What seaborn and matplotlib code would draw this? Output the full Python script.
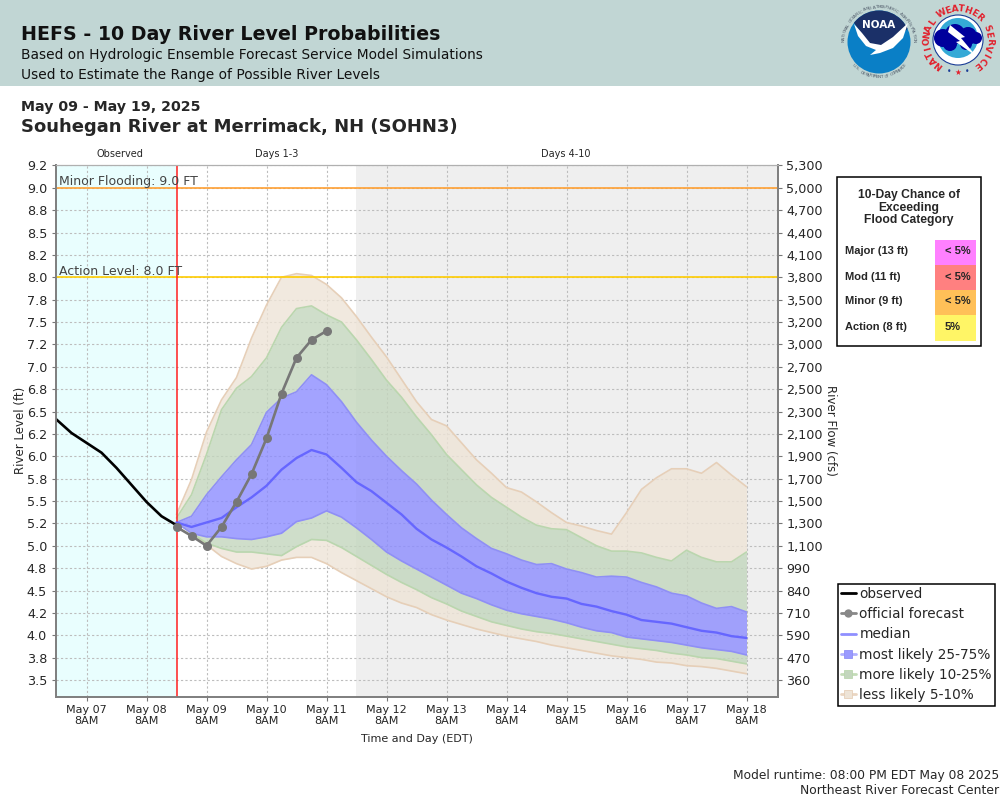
import matplotlib
matplotlib.use("Agg")
import matplotlib.pyplot as plt
import numpy as np
import pandas as pd
import seaborn as sns
from matplotlib.lines import Line2D
from matplotlib.patches import Circle, Polygon, Rectangle

# hours since May 07 8AM
obs_hours = [-12.4, -6, 0, 6, 12, 18, 24, 30, 36]
obs_level = [6.42, 6.26, 6.15, 6.04, 5.87, 5.68, 5.49, 5.33, 5.23]

fcst_hours = list(range(36, 270, 6))
official = [5.21, 5.11, 5.00, 5.21, 5.49, 5.80, 6.20, 6.70, 7.10, 7.30, 7.40]

p95 = [5.35, 5.74, 6.27, 6.63, 6.88, 7.32, 7.69, 8.00, 8.04, 8.02, 7.92, 7.77, 7.56,
       7.33, 7.11, 6.86, 6.61, 6.41, 6.34, 6.15, 5.96, 5.81, 5.65, 5.60, 5.49, 5.37,
       5.26, 5.22, 5.17, 5.13, 5.37, 5.63, 5.76, 5.86, 5.86, 5.81, 5.93, 5.79, 5.66]
p90 = [5.31, 5.57, 6.02, 6.52, 6.76, 6.89, 7.10, 7.44, 7.65, 7.68, 7.58, 7.50, 7.30,
       7.08, 6.85, 6.66, 6.44, 6.24, 6.02, 5.85, 5.68, 5.54, 5.43, 5.32, 5.23, 5.19,
       5.18, 5.09, 5.00, 4.94, 4.94, 4.92, 4.87, 4.83, 4.95, 4.87, 4.82, 4.82, 4.93]
p75 = [5.26, 5.33, 5.57, 5.77, 5.96, 6.13, 6.49, 6.65, 6.72, 6.91, 6.80, 6.61, 6.38,
       6.18, 6.00, 5.84, 5.69, 5.51, 5.35, 5.20, 5.08, 4.97, 4.91, 4.84, 4.79, 4.80,
       4.74, 4.70, 4.65, 4.66, 4.65, 4.59, 4.54, 4.47, 4.44, 4.36, 4.30, 4.32, 4.26]
median = [5.26, 5.21, 5.26, 5.31, 5.43, 5.54, 5.67, 5.85, 5.98, 6.07, 6.02, 5.87, 5.71,
          5.61, 5.48, 5.35, 5.19, 5.07, 4.98, 4.88, 4.77, 4.69, 4.60, 4.53, 4.47, 4.43,
          4.41, 4.35, 4.32, 4.27, 4.23, 4.17, 4.15, 4.13, 4.09, 4.05, 4.03, 3.99, 3.97]
p25 = [5.26, 5.14, 5.10, 5.10, 5.08, 5.07, 5.10, 5.14, 5.27, 5.31, 5.39, 5.32, 5.20,
       5.07, 4.93, 4.83, 4.74, 4.65, 4.56, 4.47, 4.41, 4.34, 4.28, 4.24, 4.21, 4.18,
       4.14, 4.09, 4.05, 4.03, 3.98, 3.96, 3.94, 3.92, 3.89, 3.86, 3.84, 3.82, 3.78]
p10 = [5.26, 5.14, 5.03, 4.97, 4.93, 4.93, 4.91, 4.89, 4.99, 5.07, 5.06, 4.98, 4.88,
       4.78, 4.68, 4.59, 4.51, 4.42, 4.35, 4.27, 4.21, 4.15, 4.11, 4.07, 4.04, 4.02,
       3.99, 3.96, 3.93, 3.90, 3.87, 3.85, 3.83, 3.80, 3.78, 3.75, 3.74, 3.71, 3.68]
p5 = [5.26, 5.14, 5.01, 4.88, 4.80, 4.74, 4.77, 4.84, 4.87, 4.87, 4.80, 4.70, 4.61,
      4.52, 4.43, 4.36, 4.31, 4.23, 4.17, 4.12, 4.07, 4.03, 3.99, 3.96, 3.93, 3.89,
      3.86, 3.83, 3.80, 3.77, 3.75, 3.73, 3.70, 3.69, 3.66, 3.65, 3.63, 3.60, 3.57]

level_ticks = [9.25, 9.0, 8.75, 8.5, 8.25, 8.0, 7.75, 7.5, 7.25, 7.0, 6.75, 6.5,
               6.25, 6.0, 5.75, 5.5, 5.25, 5.0, 4.75, 4.5, 4.25, 4.0, 3.75, 3.5]
flow_labels = ["5,300", "5,000", "4,700", "4,400", "4,100", "3,800", "3,500", "3,200",
               "3,000", "2,700", "2,500", "2,300", "2,100", "1,900", "1,700", "1,500",
               "1,300", "1,100", "990", "840", "710", "590", "470", "360"]
day_labels = ["May 07", "May 08", "May 09", "May 10", "May 11", "May 12",
              "May 13", "May 14", "May 15", "May 16", "May 17", "May 18"]
day_hours = [24 * i for i in range(12)]

flood_names = ["Major (13 ft)", "Mod (11 ft)", "Minor (9 ft)", "Action (8 ft)"]
flood_chance = ["< 5%", "< 5%", "< 5%", "5%"]
flood_colors = ["#ff80ff", "#ff8080", "#ffc058", "#fff566"]

sns.set_style("ticks")
plt.rcParams["font.family"] = ["DejaVu Sans"]

TAN, TAN_EDGE = "#eee4d7", "#e6cfb8"
GREEN, GREEN_EDGE = "#c3d6bd", "#bad6ae"
BLUE, BLUE_EDGE = "#8c8cff", "#8f8ff5"
MEDIAN = "#6666ff"
GRAY = "#777777"

fig = plt.figure(figsize=(10, 8), dpi=100)

# pixel canvas for the header, logos, table and footer
bg = fig.add_axes([0, 0, 1, 1])
bg.set_xlim(0, 1000)
bg.set_ylim(800, 0)
bg.axis("off")


def ring_text(text, cx, cy, r, start, end, size, color, bottom=False, weight="normal"):
    for a, ch in zip(np.linspace(start, end, len(text)), text):
        rad = np.radians(a)
        rot = a + 90 if bottom else a - 90
        bg.text(cx + r * np.cos(rad), cy - r * np.sin(rad), ch, rotation=rot, ha="center",
                va="center", fontsize=size, color=color, fontweight=weight)


bg.add_patch(Rectangle((0, 0), 1000, 85.5, color="#c1d6d4", lw=0))
bg.text(21, 33, "HEFS - 10 Day River Level Probabilities", fontsize=13.7, fontweight="bold",
        color="#111111", va="center_baseline")
bg.text(21, 54, "Based on Hydrologic Ensemble Forecast Service Model Simulations",
        fontsize=9.95, color="#111111", va="center_baseline")
bg.text(21, 73, "Used to Estimate the Range of Possible River Levels", fontsize=9.95,
        color="#111111", va="center_baseline")
bg.text(21, 105, "May 09 - May 19, 2025", fontsize=10.2, fontweight="bold", va="center_baseline")
bg.text(21, 125, "Souhegan River at Merrimack, NH (SOHN3)", fontsize=13, fontweight="bold",
        va="center_baseline")

# NOAA logo
disc = Circle((879, 42), 31.5, color="#0a7fc6", lw=0)
bg.add_patch(disc)
top = Polygon([(845, 5), (913, 5), (913, 24), (893, 42), (878, 50), (866, 40), (852, 20)],
              color="#1b3068", lw=0)
bg.add_patch(top)
top.set_clip_path(disc)
bg.add_patch(Polygon([(854, 24), (862, 33), (870, 43), (881, 45), (893, 37), (908, 23),
                      (903, 38), (893, 48), (880, 53), (870, 55), (876, 50), (866, 46), (858, 36)],
                     color="white", lw=0))
bg.text(879, 25, "NOAA", color="white", fontsize=7.5, fontweight="bold", ha="center", va="center")
ring_text("NATIONAL OCEANIC AND ATMOSPHERIC ADMINISTRATION", 879, 42, 35, 178, 2, 3.2, "#55606e")
ring_text("U.S. DEPARTMENT OF COMMERCE", 879, 42, 35, 222, 318, 3.2, "#55606e", bottom=True)

# NWS logo
bg.add_patch(Circle((958, 40), 25, facecolor="white", edgecolor="#1a3c96", lw=0.8))
dome = Circle((958, 38), 20, color="#34a9d6", lw=0)
bg.add_patch(dome)
for cx, cy, r in [(943, 38, 9), (955, 34, 10), (968, 36, 9), (976, 38, 6), (950, 44, 7), (966, 44, 6)]:
    bg.add_patch(Circle((cx, cy), r, color="#00009c", lw=0))
bg.add_patch(Polygon([(950, 25), (965, 37), (961, 38), (976, 56), (956, 42), (960, 41), (948, 32)],
                     color="white", lw=0))
ring_text("NATIONAL WEATHER SERVICE", 958, 40, 31, 232, -52, 6.5, "#e2202c", weight="bold")
bg.text(958, 72, "★", color="#e2202c", fontsize=5.5, ha="center", va="center")
bg.text(949, 71, "•", color="#1a3c96", fontsize=5.5, ha="center", va="center")
bg.text(967, 71, "•", color="#1a3c96", fontsize=5.5, ha="center", va="center")

# main plot
ax = fig.add_axes([0.0555, 103 / 800, 0.7225, 532.5 / 800])
ax.set_xlim(-12.4, 276.6)
ax.set_ylim(3.31, 9.26)
ax.axvspan(-12.4, 36, color="#e9fefe", lw=0, zorder=0)
ax.axvspan(107.6, 276.6, color="#efefef", lw=0, zorder=0)
ax.set_axisbelow(True)
ax.grid(True, color="#bdbdbd", linestyle=(0, (2, 2)), linewidth=0.8)

bands = pd.DataFrame({"hours": fcst_hours, "p95": p95, "p90": p90, "p75": p75, "median": median,
                      "p25": p25, "p10": p10, "p5": p5})
for low, high, color in [("p90", "p95", TAN), ("p5", "p10", TAN), ("p75", "p90", GREEN),
                         ("p10", "p25", GREEN), ("p25", "p75", BLUE)]:
    ax.fill_between(bands["hours"], bands[low], bands[high], color=color, alpha=0.8, lw=0, zorder=1)
for col, color in [("p95", TAN_EDGE), ("p5", TAN_EDGE), ("p90", GREEN_EDGE), ("p10", GREEN_EDGE),
                   ("p75", BLUE_EDGE), ("p25", BLUE_EDGE)]:
    sns.lineplot(data=bands, x="hours", y=col, ax=ax, color=color, linewidth=1.2, zorder=2)

ax.axhline(9, color="#ffa033", linewidth=1.2, zorder=3)
ax.axhline(8, color="#ffcc00", linewidth=1.2, zorder=3)
ax.axvline(36, color="#ff2020", linewidth=1.1, zorder=3)
ax.text(-11, 8.995, "Minor Flooding: 9.0 FT", fontsize=9, color="#444444", va="bottom")
ax.text(-11, 7.995, "Action Level: 8.0 FT", fontsize=9, color="#444444", va="bottom")

sns.lineplot(x=fcst_hours, y=median, ax=ax, color=MEDIAN, linewidth=1.7, zorder=4)
sns.lineplot(x=obs_hours, y=obs_level, ax=ax, color="black", linewidth=1.9, zorder=5)
sns.lineplot(x=fcst_hours[:len(official)], y=official, ax=ax, color=GRAY, linewidth=1.9, marker="o",
             markersize=6.5, markeredgewidth=0, zorder=6)

ax.set_xticks(day_hours)
ax.set_xticklabels([d + "\n8AM" for d in day_labels], fontsize=8, linespacing=1.05)
ax.set_yticks(level_ticks)
ax.set_yticklabels([f"{v:.1f}" for v in level_ticks], fontsize=9.2)
ax.tick_params(axis="both", length=3, width=0.8, color="#777777", pad=3)
ax.set_xlabel("Time and Day (EDT)", fontsize=8, labelpad=6)
ax.set_ylabel("River Level (ft)", fontsize=8.5, labelpad=0)

right = ax.twinx()
right.set_ylim(ax.get_ylim())
right.set_yticks(level_ticks)
right.set_yticklabels(flow_labels, fontsize=9.2)
right.tick_params(axis="y", length=3, width=0.8, color="#777777", pad=3)
right.set_ylabel("River Flow (cfs)", fontsize=8.5, rotation=270, labelpad=10)
right.grid(False)
for a in (ax, right):
    for side in ["left", "right", "bottom"]:
        a.spines[side].set_visible(True)
        a.spines[side].set_color("#808080")
        a.spines[side].set_linewidth(1.3)
    a.spines["top"].set_visible(True)
    a.spines["top"].set_color("#b0b0b0")

bg.text(120, 154, "Observed", fontsize=7, ha="center", va="center")
bg.text(277, 154, "Days 1-3", fontsize=7, ha="center", va="center")
bg.text(566, 154, "Days 4-10", fontsize=7, ha="center", va="center")

handles = [
    Line2D([], [], color="black", lw=2),
    Line2D([], [], color="#888888", lw=2, marker="o", markersize=6, markeredgewidth=0),
    Line2D([], [], color="#8f8fff", lw=2),
    Line2D([], [], color="#b0b0ff", lw=2, marker="s", markersize=6, markerfacecolor="#9999ff",
           markeredgecolor="#8f8ff5", markeredgewidth=0.6),
    Line2D([], [], color="#c4dcb8", lw=2, marker="s", markersize=6, markerfacecolor="#c3d6bd",
           markeredgecolor="#bad6ae", markeredgewidth=0.6),
    Line2D([], [], color="#ead6c2", lw=2, marker="s", markersize=6, markerfacecolor="#eee4d7",
           markeredgecolor="#e6cfb8", markeredgewidth=0.6),
]
leg = ax.legend(handles, ["observed", "official forecast", "median", "most likely 25-75%",
                          "more likely 10-25%", "less likely 5-10%"],
                loc="upper left", bbox_to_anchor=(0.8375, 216.5 / 800), bbox_transform=fig.transFigure,
                borderaxespad=0, fontsize=9.8, handlelength=1.1, handletextpad=0.25,
                labelspacing=0.46, borderpad=0.25, fancybox=False, framealpha=1, edgecolor="black")
leg.get_frame().set_linewidth(1.1)
leg.set_zorder(20)

# flood category table
bg.add_patch(Rectangle((837, 177), 144, 168.5, facecolor="white", edgecolor="black", lw=1.1))
bg.text(909, 207.5, "10-Day Chance of\nExceeding\nFlood Category", family="Liberation Sans",
        fontweight="bold", fontsize=8.7, ha="center", va="center", linespacing=1.05)
for i, (name, chance, color) in enumerate(zip(flood_names, flood_chance, flood_colors)):
    y = 240 + 25 * i
    bg.add_patch(Rectangle((935, y), 41, 25 if i < 3 else 26, color=color, lw=0))
    bg.text(845, y + 11.5, name, family="Liberation Sans", fontweight="bold", fontsize=8, va="center")
    bg.text(945, y + 11.5, chance, family="Liberation Sans", fontweight="bold", fontsize=8, va="center")

bg.text(999, 775, "Model runtime: 08:00 PM EDT May 08 2025", fontsize=8.8, ha="right", va="center")
bg.text(999, 791, "Northeast River Forecast Center", fontsize=8.9, ha="right", va="center")

fig.savefig("out.png", dpi=100)
